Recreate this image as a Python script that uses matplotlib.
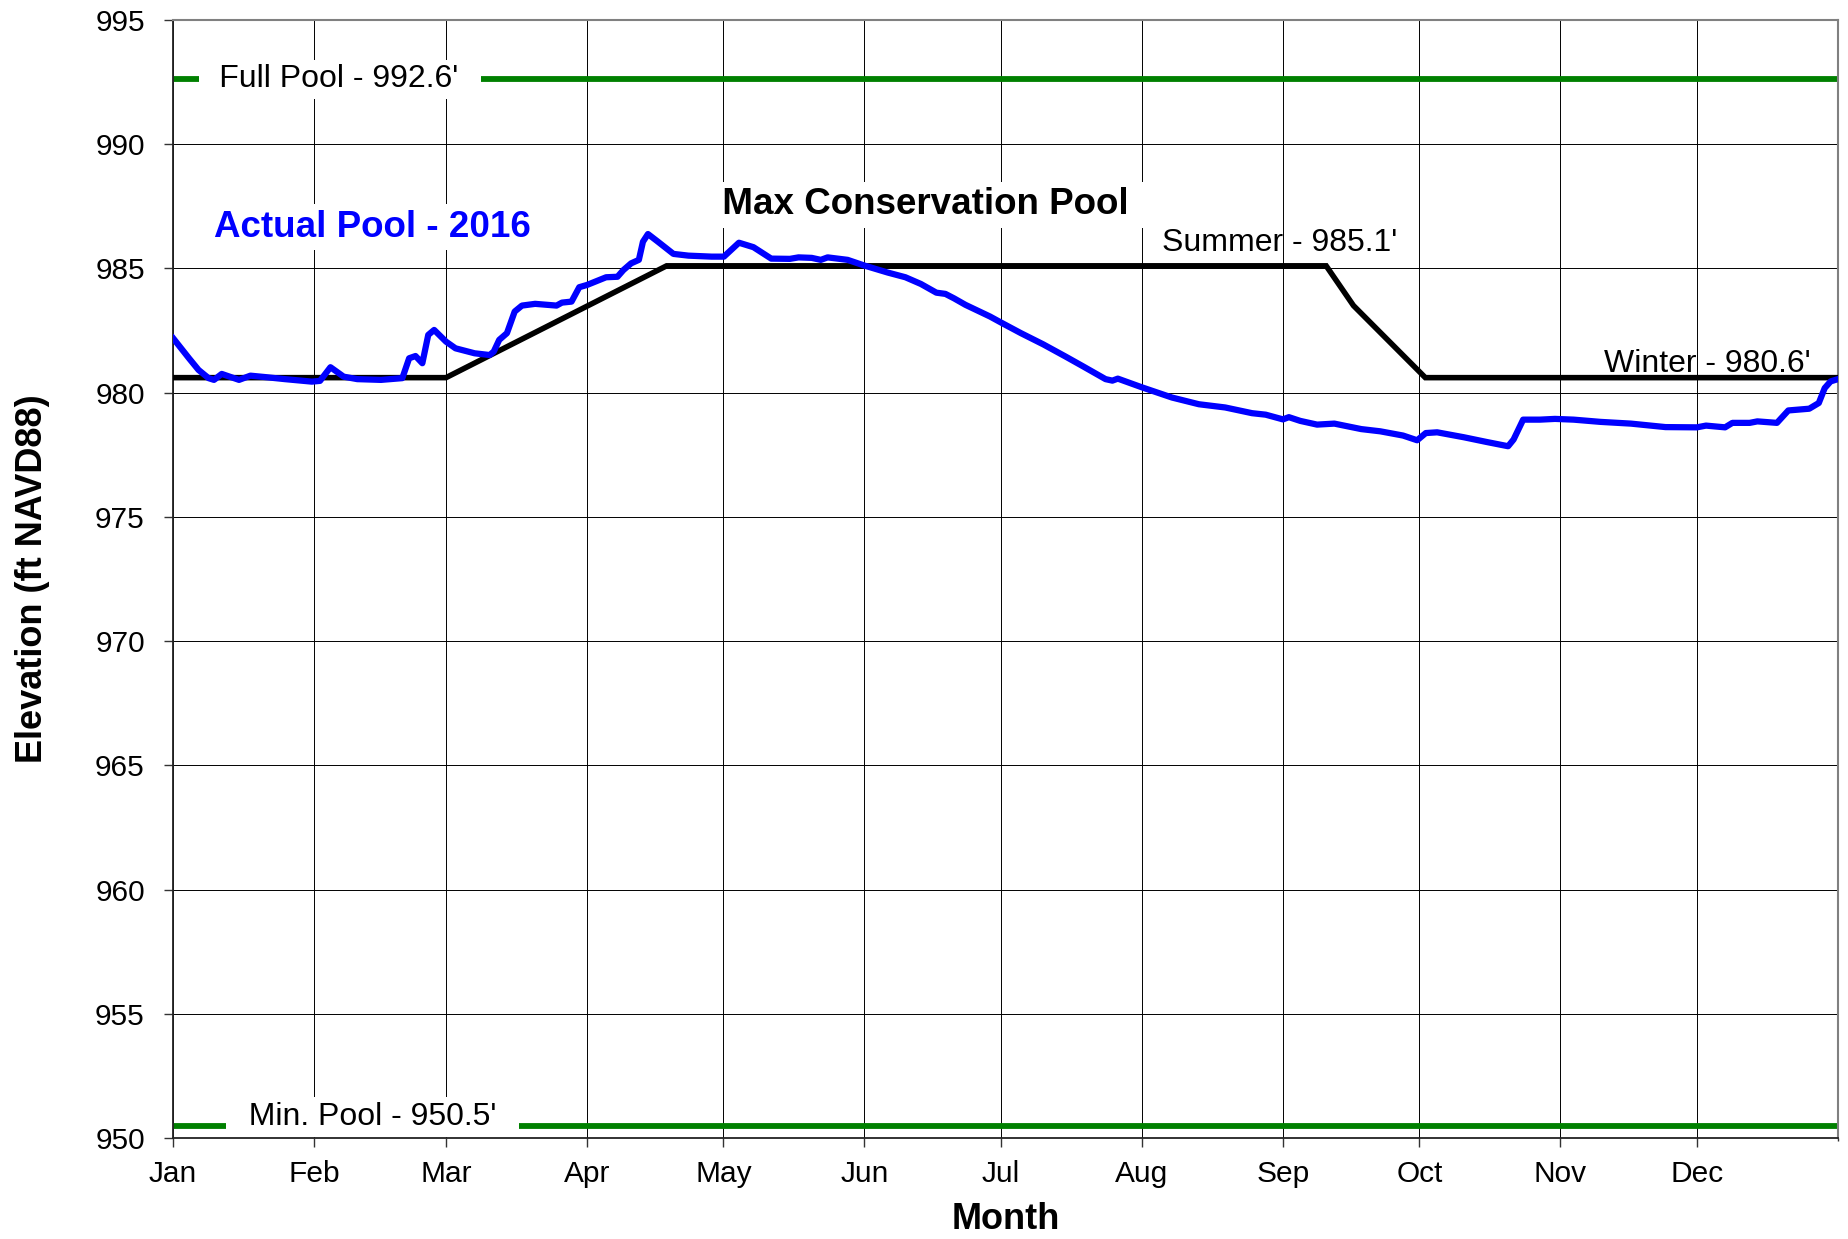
import matplotlib
matplotlib.use("Agg")
import matplotlib.pyplot as plt
import numpy as np

plt.rcParams['font.family'] = ['Liberation Sans', 'DejaVu Sans']

# ---------------------------------------------------------------------------- #
# data (day of year 2016, 0 = Jan 1)

months = ['Jan', 'Feb', 'Mar', 'Apr', 'May', 'Jun',
          'Jul', 'Aug', 'Sep', 'Oct', 'Nov', 'Dec']
month_len = [31, 29, 31, 30, 31, 30, 31, 31, 30, 31, 30, 31]

full_pool = 992.6
min_pool = 950.5
summer_pool = 985.1
winter_pool = 980.6

# guide curve (max conservation pool)
rule_days = [0, 60, 108.5, 253.5, 259.5, 275.3, 366]
rule_elev = [980.6, 980.6, 985.1, 985.1, 983.5, 980.6, 980.6]

# actual pool 2016
pool_days = [0, 3.5, 5.6, 7.8, 9, 10.7, 14.5, 17, 20.4, 24.6, 30.5, 32.3,
             34.6, 37.5, 40.5, 45.7, 50.4, 51.9, 53.3, 54.8, 56.1, 57.4, 60,
             62.1, 66.3, 69.6, 70.5, 71.7, 73.4, 75.1, 76.7, 79.6, 84.3, 85.5,
             87.6, 89.3, 91, 95.2, 97.7, 99, 100.7, 102.4, 103.3, 104.4, 106.6,
             110, 113.3, 118.4, 121.1, 124.4, 127.6, 131.5, 135.6, 137.5,
             140.4, 142.4, 143.9, 148.3, 152, 157.1, 161, 164.4, 167.8, 169.8,
             171.7, 174.2, 179.6, 182, 186.4, 191.3, 196.2, 200.1, 205, 206.5,
             207.7, 213, 219.6, 225.5, 231.3, 237.2, 240.2, 244, 245.3, 247.8,
             251.5, 255.3, 261.2, 265.4, 270.4, 273.5, 275.4, 277.9, 283.8,
             288.8, 293.5, 294.7, 296.8, 300.5, 303.8, 307.9, 313.8, 320.5,
             328.1, 335, 337, 341.2, 342.8, 346.6, 348.3, 352.6, 355.1, 359.7,
             361.8, 363.1, 364.4, 366]
pool_elev = [982.19, 981.38, 980.91, 980.58, 980.51, 980.75, 980.51, 980.68,
             980.62, 980.54, 980.44, 980.47, 981.02, 980.64, 980.54, 980.51,
             980.58, 981.38, 981.47, 981.18, 982.32, 982.52, 982.05, 981.78,
             981.58, 981.51, 981.65, 982.12, 982.39, 983.26, 983.50, 983.57,
             983.50, 983.62, 983.66, 984.24, 984.33, 984.64, 984.66, 984.93,
             985.20, 985.34, 986.07, 986.38, 986.07, 985.58, 985.51, 985.47,
             985.47, 986.03, 985.85, 985.39, 985.38, 985.44, 985.42, 985.34,
             985.44, 985.34, 985.11, 984.83, 984.64, 984.37, 984.02, 983.97,
             983.79, 983.53, 983.06, 982.82, 982.39, 981.94, 981.45, 981.05,
             980.54, 980.48, 980.56, 980.21, 979.80, 979.53, 979.40, 979.17,
             979.11, 978.92, 979.01, 978.86, 978.71, 978.75, 978.53, 978.44,
             978.27, 978.08, 978.37, 978.40, 978.20, 978.01, 977.84, 978.11,
             978.91, 978.91, 978.94, 978.91, 978.82, 978.75, 978.61, 978.60,
             978.67, 978.60, 978.78, 978.78, 978.84, 978.78, 979.28, 979.35,
             979.58, 980.18, 980.45, 980.54]

month_start = np.concatenate([[0], np.cumsum(month_len)])

# ---------------------------------------------------------------------------- #
# figure

fig = plt.figure(figsize=(18.49, 12.39), dpi=100)
ax = fig.add_axes([0.0936, 0.0815, 0.9004, 0.9025])

ax.set_xlim(0, 366)
ax.set_ylim(950, 995)
ax.set_xticks(month_start[:-1])
ax.set_xticklabels(months)
ax.set_xticks([366], minor=True)
ax.set_yticks(np.arange(950, 996, 5))

ax.grid(True, which='both', color='black', linewidth=0.7, zorder=0)
ax.set_axisbelow(True)

ax.tick_params(axis='both', which='both', direction='out', labelsize=21.5,
               width=1, color='#333333')
ax.tick_params(axis='y', length=6.3, pad=14)
ax.tick_params(axis='x', length=6.5, pad=9)

for side in ['top', 'right']:
    ax.spines[side].set_color('#808080')
    ax.spines[side].set_linewidth(1.5)
for side in ['left', 'bottom']:
    ax.spines[side].set_color('#222222')
    ax.spines[side].set_linewidth(1.3)

# pool limits
ax.axhline(full_pool, color='#008000', linewidth=4.2, zorder=2)
ax.axhline(min_pool, color='#008000', linewidth=4.2, zorder=2)

# guide curve and actual pool
ax.plot(rule_days, rule_elev, color='black', linewidth=4.0, zorder=4,
        solid_joinstyle='miter')
ax.plot(pool_days, pool_elev, color='#0000FF', linewidth=4.5, zorder=5,
        solid_joinstyle='round')

box = dict(boxstyle='square,pad=0.15', facecolor='white', edgecolor='none')

ax.text(6.8, 992.6, " \u2009Full Pool - 992.6'  ", fontsize=23, ha='left',
        va='center', bbox=box, zorder=3)
ax.text(12.7, 950.84, "  Min. Pool - 950.5'  ", fontsize=23, ha='left',
        va='center', bbox=box, zorder=3)
ax.text(9.1, 986.65, "Actual Pool - 2016", fontsize=26.5, fontweight='bold',
        color='#0000FF', ha='left', va='center', bbox=box, zorder=3)
ax.text(165.3, 987.55, " Max Conservation Pool ", fontsize=26.5,
        fontweight='bold', ha='center', va='center', bbox=box, zorder=3)
ax.text(217.3, 986.03, "Summer - 985.1'", fontsize=23, ha='left',
        va='center', zorder=3)
ax.text(359.9, 981.14, "Winter - 980.6'", fontsize=23, ha='right',
        va='center', zorder=3)

ax.set_xlabel("Month", fontsize=26, fontweight='bold')
ax.set_ylabel("Elevation (ft NAVD88)", fontsize=26, fontweight='bold')
ax.xaxis.set_label_coords(0.5, -0.0733)
ax.xaxis.label.set_va('center')
ax.yaxis.set_label_coords(-0.0847, 0.5)
ax.yaxis.label.set_va('center')

fig.savefig("out.png", dpi=100)
